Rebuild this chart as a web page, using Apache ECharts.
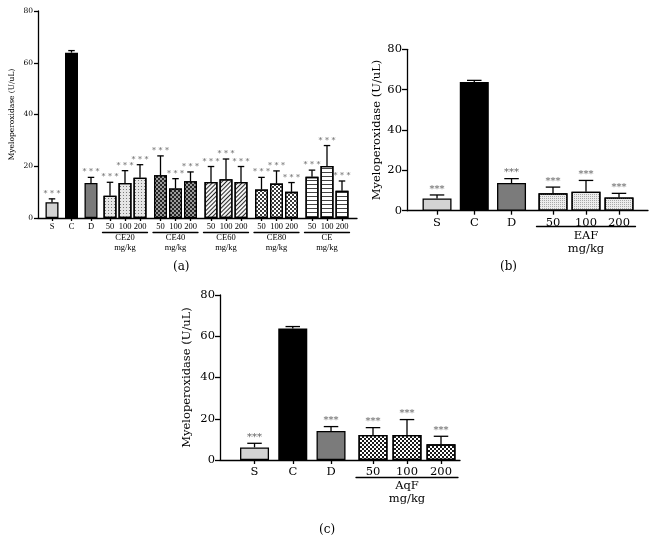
<!DOCTYPE html>
<html>
<head>
<meta charset="utf-8">
<script src="https://cdn.jsdelivr.net/npm/echarts@6/dist/echarts.min.js"></script>
<style>
  html, body { margin: 0; padding: 0; background: #fff; }
  #main { width: 658px; height: 553px; }
</style>
</head>
<body>
<div id="main"></div>
<script>
// 값은 그림에서 읽은 추정치 (mean, SEM)
var ctrlLabels = ['S', 'C', 'D'];
var doseLabels = ['50', '100', '200'];
var ctrlStars = [true, false, true];
var doseStars = [true, true, true];

// (a) CE 추출물
var aCtrlMean = [6.1, 63.9, 13.5];
var aCtrlSem = [1.3, 0.8, 2.2];
var ceNames = ['CE20', 'CE40', 'CE60', 'CE80', 'CE'];
var ceMean = [[8.6, 13.5, 15.6], [16.5, 11.4, 14.2], [13.9, 15.0, 13.9], [11.0, 13.3, 10.1], [15.9, 20.1, 10.5]];
var ceSem = [[5.2, 4.8, 5.0], [7.5, 3.8, 3.6], [6.0, 7.8, 6.0], [4.7, 4.9, 3.6], [2.6, 7.9, 3.8]];

// (b) EAF
var bCtrlMean = [6.1, 63.8, 13.7];
var bCtrlSem = [1.7, 0.8, 2.2];
var eafMean = [8.6, 9.4, 6.6];
var eafSem = [3.1, 5.6, 2.0];

// (c) AqF
var cCtrlMean = [6.1, 63.8, 14.1];
var cCtrlSem = [2.0, 0.9, 2.1];
var aqfMean = [12.1, 12.1, 7.6];
var aqfSem = [3.6, 7.5, 3.9];

var yMin = 0, yMax = 80, yStep = 20;
var yTitle = 'Myeloperoxidase (U/uL)';
var serif = 'DejaVu Serif';
var serifNarrow = 'Liberation Serif';

// 막대 채우기 (색 + 무늬)
var ctrlFill = [{ color: '#d3d3d3' }, { color: '#000' }, { color: '#7b7b7b' }];
function checker(s, fg) {
  return { symbol: 'rect', symbolSize: 1, symbolKeepAspect: false, color: fg,
           dashArrayX: [[s, s], [0, s, s, 0]], dashArrayY: [s, 0] };
}
function lines(w, gap, fg, rot) {
  return { symbol: 'rect', symbolSize: 1, symbolKeepAspect: false, color: fg,
           dashArrayX: [1, 0], dashArrayY: [w, gap], rotation: rot };
}
function dots(s, gap, fg) {
  return { symbol: 'rect', symbolSize: 1, symbolKeepAspect: false, color: fg,
           dashArrayX: [s, gap], dashArrayY: [s, gap] };
}
var groupFill = {
  CE20: { color: '#e6e6e6', decal: dots(1, 1.5, '#7a7a7a') },
  CE40: { color: '#262626', decal: checker(1.5, '#9c9c9c') },
  CE60: { color: '#f4f4f4', decal: lines(1, 1.6, '#2a2a2a', -Math.PI / 4) },
  CE80: { color: '#ffffff', decal: checker(1.5, '#3a3a3a') },
  CE:   { color: '#ffffff', decal: lines(1, 2.6, '#444', 0) },
  EAF:  { color: '#ececec', decal: dots(1, 1, '#a8a8a8') },
  AqF:  { color: '#ffffff', decal: checker(2, '#1a1a1a') }
};

var option = {
  animation: false,
  backgroundColor: '#fff',
  grid: [], xAxis: [], yAxis: [], series: [], title: []
};

function errRender(p) {
  return function (params, api) {
    var i = api.value(0), m = api.value(1), t = api.value(2), s = api.value(3);
    var a = api.coord([i, m]), b = api.coord([i, t]);
    var st = { stroke: '#000', lineWidth: p.lw };
    var kids = [
      { type: 'line', shape: { x1: a[0], y1: a[1], x2: b[0], y2: b[1] }, style: st },
      { type: 'line', shape: { x1: b[0] - p.barW / 4, y1: b[1], x2: b[0] + p.barW / 4, y2: b[1] }, style: st }
    ];
    if (s) {
      kids.push({ type: 'text', x: b[0], y: b[1] - p.starGap,
        style: { text: p.starText, align: 'center', verticalAlign: 'bottom',
                 fontFamily: serif, fontSize: p.starFs, fill: '#5e5e5e' } });
    }
    return { type: 'group', children: kids };
  };
}

function addCluster(p, c) {
  var gi = option.grid.length;
  option.grid.push({ left: c.left, top: p.top, width: c.band * c.labels.length, height: p.bottom - p.top });
  var xi = option.xAxis.length;
  option.xAxis.push({
    gridIndex: gi, type: 'category', data: c.labels,
    axisLine: { show: false },
    axisTick: { show: true, alignWithLabel: true, interval: 0, length: p.tick - 1, lineStyle: { color: '#000', width: p.lw } },
    axisLabel: { fontFamily: p.catFont, fontSize: p.catFs, color: '#000', margin: p.catMargin, interval: 0, hideOverlap: false }
  });
  if (c.name) {
    option.xAxis.push({
      gridIndex: gi, type: 'category', data: c.labels, position: 'bottom', offset: p.ulOffset,
      axisLine: { show: true, lineStyle: { color: '#000', width: p.lw } },
      axisTick: { show: false }, axisLabel: { show: false },
      name: c.name + '\nmg/kg', nameLocation: 'middle', nameGap: p.ulNameGap,
      nameTextStyle: { fontFamily: p.catFont, fontSize: p.catFs, color: '#000', lineHeight: p.lh }
    });
  }
  var yi = option.yAxis.length;
  option.yAxis.push({ gridIndex: gi, type: 'value', min: yMin, max: yMax, show: false });
  option.series.push({
    type: 'bar', xAxisIndex: xi, yAxisIndex: yi, barWidth: p.barW,
    data: c.means.map(function (v, i) {
      return { value: v, itemStyle: Object.assign({ borderColor: '#000', borderWidth: p.lw }, c.fills[i]) };
    })
  });
  option.series.push({
    type: 'custom', xAxisIndex: xi, yAxisIndex: yi, z: 5, renderItem: errRender(p),
    data: c.means.map(function (v, i) { return [i, v, v + c.sems[i], c.stars[i] ? 1 : 0]; })
  });
}

function addPanel(p) {
  // 축 틀 (y축 + x축 선)
  var gi = option.grid.length;
  option.grid.push({ left: p.x0, top: p.top, width: p.x1 - p.x0, height: p.bottom - p.top });
  option.xAxis.push({
    gridIndex: gi, type: 'value', min: 0, max: 1,
    axisLine: { show: true, onZero: false, lineStyle: { color: '#000', width: p.lw } },
    axisTick: { show: false }, axisLabel: { show: false }, splitLine: { show: false }
  });
  option.yAxis.push({
    gridIndex: gi, type: 'value', min: yMin, max: yMax, interval: yStep,
    axisLine: { show: true, lineStyle: { color: '#000', width: p.lw } },
    axisTick: { show: true, length: p.tick, lineStyle: { color: '#000', width: p.lw } },
    axisLabel: { fontFamily: serif, fontSize: p.fs, color: '#000', margin: p.labMargin },
    splitLine: { show: false },
    name: yTitle, nameLocation: 'middle', nameGap: p.nameGap,
    nameTextStyle: { fontFamily: serif, fontSize: p.fs, color: '#000' }
  });
  p.clusters.forEach(function (c) { addCluster(p, c); });
  option.title.push({
    text: p.tag, left: p.tagX, top: p.tagY, padding: 0,
    textStyle: { fontFamily: serif, fontSize: 12, fontWeight: 'normal', color: '#000' }
  });
}

// (a)
var panelA = {
  x0: 38, x1: 357, top: 11, bottom: 218, fs: 7.5, lh: 9.5, lw: 1.3, tick: 4, barW: 13,
  catFont: serifNarrow, catFs: 8.5,
  labMargin: 5, catMargin: 4, nameGap: 22, ulOffset: 14, ulNameGap: 1.5,
  starText: '* * *', starFs: 8, starGap: 1, tag: '(a)', tagX: 173, tagY: 261,
  clusters: [{ left: 42.25, band: 19.5, labels: ctrlLabels, means: aCtrlMean, sems: aCtrlSem, stars: ctrlStars, fills: ctrlFill }]
};
ceNames.forEach(function (nm, k) {
  panelA.clusters.push({
    left: 102.5 + k * 50.5, band: 15, labels: doseLabels, name: nm,
    means: ceMean[k], sems: ceSem[k], stars: doseStars,
    fills: doseLabels.map(function () { return groupFill[nm]; })
  });
});
addPanel(panelA);

// (b)
addPanel({
  x0: 407, x1: 648, top: 49.3, bottom: 210.7, fs: 11.5, lh: 13.5, lw: 1.3, tick: 5, barW: 29,
  catFont: serif, catFs: 11.5,
  labMargin: 5, catMargin: 6, nameGap: 24, ulOffset: 16, ulNameGap: 2.5,
  starText: '***', starFs: 10, starGap: 1, tag: '(b)', tagX: 500, tagY: 261,
  clusters: [
    { left: 418.4, band: 37.25, labels: ctrlLabels, means: bCtrlMean, sems: bCtrlSem, stars: ctrlStars, fills: ctrlFill },
    { left: 536.5, band: 33, labels: doseLabels, name: 'EAF', means: eafMean, sems: eafSem, stars: doseStars,
      fills: doseLabels.map(function () { return groupFill.EAF; }) }
  ]
});

// (c)
addPanel({
  x0: 220, x1: 460, top: 295, bottom: 460, fs: 11.5, lh: 13, lw: 1.3, tick: 5, barW: 29,
  catFont: serif, catFs: 11.5,
  labMargin: 5, catMargin: 6, nameGap: 27, ulOffset: 17, ulNameGap: 2.5,
  starText: '***', starFs: 10, starGap: 1, tag: '(c)', tagX: 319, tagY: 524,
  clusters: [
    { left: 235.4, band: 38.25, labels: ctrlLabels, means: cCtrlMean, sems: cCtrlSem, stars: ctrlStars, fills: ctrlFill },
    { left: 356, band: 34, labels: doseLabels, name: 'AqF', means: aqfMean, sems: aqfSem, stars: doseStars,
      fills: doseLabels.map(function () { return groupFill.AqF; }) }
  ]
});

var myChart = echarts.init(document.getElementById('main'), null, { renderer: 'canvas' });
myChart.setOption(option);
window.addEventListener('resize', myChart.resize);
</script>
</body>
</html>
